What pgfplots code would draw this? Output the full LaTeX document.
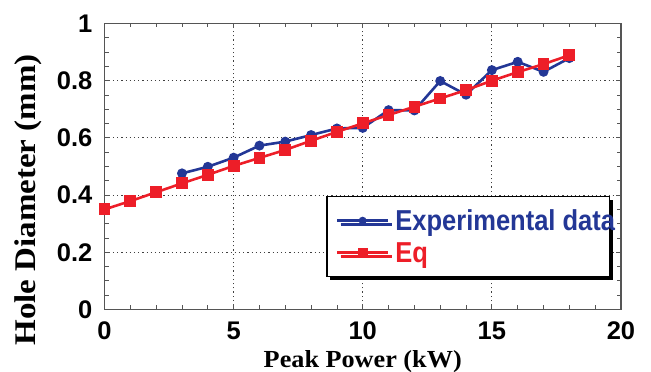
\documentclass[border=0pt]{standalone}
\usepackage{pgfplots}
\pgfplotsset{compat=1.18}
\usepackage{graphicx}
\usepackage{fontspec}
\setmainfont{Liberation Sans}
\newfontfamily\timesfont{Liberation Serif}
\usetikzlibrary{shadows}
\definecolor{expblue}{RGB}{35,55,150}
\definecolor{eqred}{RGB}{237,30,40}
\definecolor{framegray}{RGB}{85,85,85}
\begin{document}
\begin{tikzpicture}
\useasboundingbox (0,0) rectangle (651pt,372pt);
\begin{axis}[
  at={(104.5pt,62.5pt)}, anchor=south west,
  scale only axis, width=516.5pt, height=286pt,
  xmin=0, xmax=20, ymin=0, ymax=1,
  xtick={0,5,10,15,20}, ytick={0,0.2,0.4,0.6,0.8,1},
  minor x tick num=4, minor y tick num=3,
  tick align=inside,
  major tick length=5pt, minor tick length=4pt,
  every tick/.style={framegray, line width=0.8pt},
  axis line style={framegray, line width=1.2pt},
  grid=major,
  major grid style={black!75, line width=0.9pt, dash pattern=on 1.2pt off 3pt},
  clip=false,
  /pgf/number format/assume math mode=true,
  ticklabel style={font=\fontsize{25.5}{26}\selectfont\bfseries, inner sep=0pt},
  xticklabel style={yshift=-12pt},
  yticklabel style={xshift=-12pt},
  xlabel={\scalebox{1.07}[1]{\timesfont\bfseries\fontsize{24.5}{25}\selectfont Peak Power (kW)}},
  ylabel={\scalebox{1.10}[1]{\timesfont\bfseries\fontsize{30}{30}\selectfont Hole Diameter (mm)}},
  xlabel style={at={(rel axis cs:0.5,-0.202)}, anchor=base, inner sep=0pt},
  ylabel style={at={(rel axis cs:-0.148,0.383)}, anchor=center, inner sep=0pt},
  legend style={at={(rel axis cs:0.429,0.397)}, anchor=north west,
    draw=black, line width=1.5pt, fill=white,
    general shadow={fill=black, shadow xshift=3.5pt, shadow yshift=-3.5pt},
    inner xsep=9pt, inner ysep=8pt,
    nodes={inner sep=0pt, text height=26pt, text depth=6pt},
    column sep=6pt, row sep=0pt,
    font=\fontsize{25.5}{26}\selectfont\bfseries},
  legend cell align=left,
  legend image code/.code={
    \draw[mark repeat=2,mark phase=2,#1] plot coordinates {(0pt,0pt) (25.5pt,0pt) (51pt,0pt)};
  },
]
\addplot[expblue, line width=2.6pt, mark=*, mark size=3.6pt, mark options={solid},
  legend image post style={mark size=2.6pt}]
coordinates {
(3,0.476) (4,0.499) (5,0.531) (6,0.573) (7,0.587) (8,0.610) (9,0.633)
(10,0.635) (11,0.697) (12,0.696) (13,0.799) (14,0.751) (15,0.837)
(16,0.866) (17,0.831) (18,0.879)
};
\addlegendentry{\makebox[205pt][l]{\scalebox{1}[1.13]{\textcolor{expblue}{Experimental data}}}}
\addplot[eqred, line width=2.6pt, mark=square*, mark size=4.6pt, mark options={solid},
  legend image post style={mark size=3.8pt}]
coordinates {
(0,0.350) (1,0.379) (2,0.410) (3,0.441) (4,0.471) (5,0.502) (6,0.530)
(7,0.558) (8,0.590) (9,0.621) (10,0.651) (11,0.680) (12,0.709) (13,0.738)
(14,0.767) (15,0.800) (16,0.830) (17,0.858) (18,0.889)
};
\addlegendentry{\makebox[205pt][l]{\scalebox{1}[1.13]{\textcolor{eqred}{Eq}}}}
\end{axis}
\end{tikzpicture}
\end{document}
